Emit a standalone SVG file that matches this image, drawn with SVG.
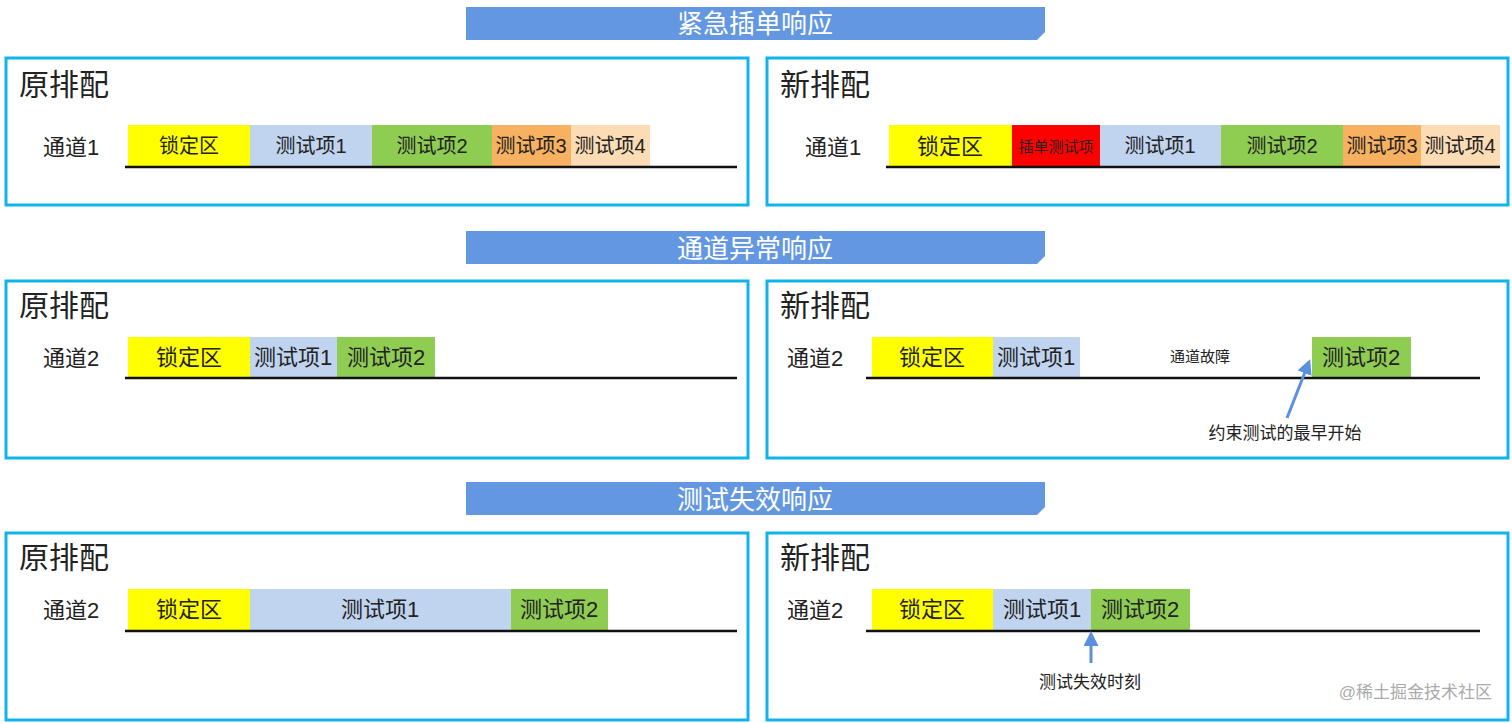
<svg xmlns="http://www.w3.org/2000/svg" width="1512" height="723" viewBox="0 0 1512 723">
<style>
text{font-family:"Liberation Sans","Noto Sans CJK SC",sans-serif;fill:#222}
.pn{fill:#fff;stroke:#10b4ec;stroke-width:3}
.bn{fill:#6397e2}
.bt{fill:#fff;font-size:26px;text-anchor:middle}
.ti{font-size:30px}
.ch{font-size:22px}
.sg{font-size:20px;text-anchor:middle}
.ln{stroke:#111;stroke-width:2.5}
.y{fill:#ffff00}.b{fill:#c0d4f0}.g{fill:#8fcc52}.o{fill:#f7b160}.p{fill:#fbdcb5}.r{fill:#ff0000}
</style>
<defs><marker id="ah" markerWidth="5" markerHeight="5" refX="4" refY="2.5" orient="auto" markerUnits="strokeWidth"><path d="M0,0 L5,2.5 L0,5 z" fill="#5b8fe0"/></marker></defs>
<rect width="1512" height="723" fill="#fff"/>
<g id="banner1"><path class="bn" d="M466,7 H1045 V32 L1037,40 H466 Z"/><text class="bt" x="755" y="33">紧急插单响应</text></g>
<g id="banner2"><path class="bn" d="M466,231 H1045 V256 L1037,264 H466 Z"/><text class="bt" x="755" y="258">通道异常响应</text></g>
<g id="banner3"><path class="bn" d="M466,482 H1045 V507 L1037,515 H466 Z"/><text class="bt" x="755" y="509">测试失效响应</text></g>

<g id="p1l"><rect class="pn" x="6" y="58" width="742" height="147"/><text class="ti" x="19" y="95">原排配</text><text class="ch" x="43" y="155">通道1</text>
<rect class="y" x="128" y="125" width="122" height="41"/><text class="sg" x="189" y="153">锁定区</text>
<rect class="b" x="250" y="125" width="122" height="41"/><text class="sg" x="311" y="153">测试项1</text>
<rect class="g" x="372" y="125" width="120" height="41"/><text class="sg" x="432" y="153">测试项2</text>
<rect class="o" x="492" y="125" width="79" height="41"/><text class="sg" x="531" y="153">测试项3</text>
<rect class="p" x="571" y="125" width="79" height="41"/><text class="sg" x="610" y="153">测试项4</text>
<line class="ln" x1="125" y1="167" x2="737" y2="167"/></g>

<g id="p1r"><rect class="pn" x="767" y="58" width="741" height="147"/><text class="ti" x="780" y="95">新排配</text><text class="ch" x="805" y="155">通道1</text>
<rect class="y" x="889" y="125" width="123" height="41"/><text class="sg" x="950" y="154" style="font-size:22px">锁定区</text>
<rect class="r" x="1012" y="125" width="88" height="41"/><text class="sg" x="1056" y="152" style="font-size:15px">插单测试项</text>
<rect class="b" x="1100" y="125" width="121" height="41"/><text class="sg" x="1160" y="153">测试项1</text>
<rect class="g" x="1221" y="125" width="122" height="41"/><text class="sg" x="1282" y="153">测试项2</text>
<rect class="o" x="1343" y="125" width="78" height="41"/><text class="sg" x="1382" y="153">测试项3</text>
<rect class="p" x="1421" y="125" width="79" height="41"/><text class="sg" x="1460" y="153">测试项4</text>
<line class="ln" x1="886" y1="167" x2="1500" y2="167"/></g>

<g id="p2l"><rect class="pn" x="6" y="281" width="742" height="177"/><text class="ti" x="19" y="316">原排配</text><text class="ch" x="43" y="366">通道2</text>
<rect class="y" x="128" y="337" width="122" height="41"/><text class="sg" x="189" y="365" style="font-size:22px">锁定区</text>
<rect class="b" x="250" y="337" width="87" height="41"/><text class="sg" x="293" y="365" style="font-size:22px">测试项1</text>
<rect class="g" x="337" y="337" width="98" height="41"/><text class="sg" x="386" y="365" style="font-size:22px">测试项2</text>
<line class="ln" x1="125" y1="378" x2="737" y2="378"/></g>

<g id="p2r"><rect class="pn" x="767" y="281" width="741" height="177"/><text class="ti" x="780" y="316">新排配</text><text class="ch" x="787" y="366">通道2</text>
<rect class="y" x="872" y="337" width="121" height="41"/><text class="sg" x="932" y="365" style="font-size:22px">锁定区</text>
<rect class="b" x="993" y="337" width="87" height="41"/><text class="sg" x="1036" y="365" style="font-size:22px">测试项1</text>
<text x="1200" y="362" style="font-size:15px;text-anchor:middle">通道故障</text>
<rect class="g" x="1312" y="337" width="99" height="41"/><text class="sg" x="1361" y="365" style="font-size:22px">测试项2</text>
<line class="ln" x1="866" y1="378" x2="1480" y2="378"/>
<text x="1285" y="439" style="font-size:17px;text-anchor:middle">约束测试的最早开始</text></g>

<g id="p3l"><rect class="pn" x="6" y="533" width="742" height="187"/><text class="ti" x="19" y="568">原排配</text><text class="ch" x="43" y="618">通道2</text>
<rect class="y" x="128" y="589" width="122" height="41"/><text class="sg" x="189" y="617" style="font-size:22px">锁定区</text>
<rect class="b" x="250" y="589" width="261" height="41"/><text class="sg" x="380" y="617" style="font-size:22px">测试项1</text>
<rect class="g" x="511" y="589" width="97" height="41"/><text class="sg" x="559" y="617" style="font-size:22px">测试项2</text>
<line class="ln" x1="125" y1="631" x2="737" y2="631"/></g>

<g id="p3r"><rect class="pn" x="767" y="533" width="741" height="187"/><text class="ti" x="780" y="568">新排配</text><text class="ch" x="787" y="618">通道2</text>
<rect class="y" x="872" y="589" width="121" height="41"/><text class="sg" x="932" y="617" style="font-size:22px">锁定区</text>
<rect class="b" x="993" y="589" width="98" height="41"/><text class="sg" x="1042" y="617" style="font-size:22px">测试项1</text>
<rect class="g" x="1091" y="589" width="99" height="41"/><text class="sg" x="1140" y="617" style="font-size:22px">测试项2</text>
<line class="ln" x1="866" y1="631" x2="1480" y2="631"/>
<text x="1090" y="688" style="font-size:17px;text-anchor:middle">测试失效时刻</text></g>

<g id="connectors" stroke="#5b8fe0" stroke-width="3" fill="none">
<line x1="1287" y1="418" x2="1309" y2="362" marker-end="url(#ah)"/>
<line x1="1091" y1="663" x2="1091" y2="634" marker-end="url(#ah)"/>
</g>
<text x="1492" y="698" style="font-size:17px;text-anchor:end;fill:#aaa">@稀土掘金技术社区</text>
</svg>
